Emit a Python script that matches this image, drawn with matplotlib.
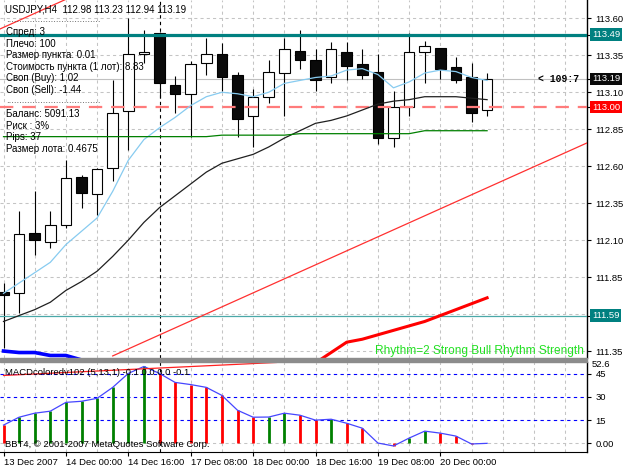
# USDJPY H4 chart with MACD colored subwindow (MetaTrader-style screenshot)
import numpy as np
import matplotlib.pyplot as plt
from matplotlib.patches import Rectangle

plt.rcParams['font.family'] = ['Liberation Sans', 'DejaVu Sans']

# ---- data -------------------------------------------------------------
time_labels = ["13 Dec 2007", "14 Dec 00:00", "14 Dec 16:00", "17 Dec 08:00",
               "18 Dec 00:00", "18 Dec 16:00", "19 Dec 08:00", "20 Dec 00:00"]
label_bars = [0, 4, 8, 12, 16, 20, 24, 28]
week_sep_bar = 10

opens = [111.75, 111.74, 112.15, 112.09, 112.20, 112.53, 112.41, 112.59, 112.97, 113.36,
         113.50, 113.15, 113.09, 113.30, 113.36, 113.22, 112.94, 113.07, 113.23, 113.38,
         113.32, 113.20, 113.37, 113.29, 113.24, 112.79, 113.00, 113.37, 113.40, 113.27,
         113.20, 112.98]
highs = [111.81, 112.30, 112.43, 112.30, 112.64, 112.54, 112.59, 113.18, 113.60, 113.52,
         113.51, 113.21, 113.31, 113.47, 113.43, 113.24, 113.12, 113.32, 113.47, 113.52,
         113.39, 113.44, 113.44, 113.39, 113.36, 113.11, 113.50, 113.45, 113.40, 113.34,
         113.30, 113.23]
lows = [111.37, 111.61, 112.00, 112.05, 112.18, 112.32, 112.27, 112.50, 112.71, 113.30,
        113.06, 112.96, 112.80, 113.22, 113.11, 112.80, 112.73, 113.03, 112.94, 113.26,
        113.11, 113.16, 113.18, 113.19, 112.75, 112.73, 112.94, 113.16, 113.19, 113.16,
        112.90, 112.94]
closes = [111.73, 112.14, 112.10, 112.20, 112.52, 112.42, 112.58, 112.96, 113.36, 113.37,
          113.16, 113.09, 113.29, 113.36, 113.20, 112.92, 113.07, 113.24, 113.39, 113.32,
          113.18, 113.39, 113.28, 113.22, 112.79, 113.00, 113.37, 113.41, 113.26, 113.18,
          112.96, 113.19]

ma_fast = [111.74, 111.81, 111.88, 111.95, 112.07, 112.16, 112.25, 112.43, 112.64, 112.78,
           112.86, 112.93, 113.01, 113.07, 113.10, 113.09, 113.07, 113.10, 113.16, 113.18,
           113.20, 113.21, 113.25, 113.26, 113.22, 113.13, 113.17, 113.23, 113.25, 113.24,
           113.20, 113.18]
ma_slow = [111.55, 111.59, 111.63, 111.68, 111.76, 111.82, 111.89, 111.99, 112.10, 112.22,
           112.32, 112.40, 112.48, 112.56, 112.62, 112.65, 112.68, 112.73, 112.79, 112.84,
           112.89, 112.91, 112.94, 112.98, 113.02, 113.04, 113.05, 113.07, 113.07, 113.07,
           113.06, 113.05]
green_line = [112.80] * 14 + [112.81] * 5 + [112.82] * 8 + [112.84] * 5

bull_bars = list(range(19, 32))
bull_line = [111.21, 111.27, 111.34, 111.41, 111.43, 111.46, 111.49, 111.52, 111.55,
             111.59, 111.63, 111.67, 111.71]
bear_bars = list(range(0, 6))
bear_line = [111.35, 111.34, 111.34, 111.32, 111.32, 111.29]

trend_bars = [7.0, 37.5]
trend_prices = [111.317, 112.762]
chan_bars = [-0.5, 5.0]
chan_prices = [113.515, 113.776]

resist_level = 113.49
support_level = 111.59
target_level = 113.00
bid = 113.19

macd = [11.8, 16.9, 19.5, 20.8, 26.5, 27.2, 29.1, 36.2, 45.2, 49.7,
        45.2, 39.4, 38.0, 36.2, 31.0, 21.4, 16.9, 17.0, 19.5, 18.2,
        15.0, 15.6, 13.0, 9.8, 0.2, -1.7, 3.4, 7.9, 6.6, 4.7,
        -0.4, 0.0]
macd_levels = [15, 30, 45]
macd_tl_bars = [0.0, 17.5]
macd_tl_vals = [43.9, 52.3]

price_ticks = [111.35, 111.85, 112.10, 112.35, 112.60, 112.85, 113.10, 113.35, 113.60]
price_grid = [111.35, 111.60, 111.85, 112.10, 112.35, 112.60, 112.85, 113.10, 113.35, 113.60]

# ---- layout -------------------------------------------------------------
W, H = 625, 469
fig = plt.figure(figsize=(W / 100, H / 100), dpi=100)
fig.patch.set_facecolor('white')
ax = fig.add_axes([0, 1 - 358 / H, 587 / W, 358 / H])
am = fig.add_axes([0, 17 / H, 587 / W, 90 / H])

xlim = (-3.5 / 15.6, (587 - 3.5) / 15.6)
for a in (ax, am):
    a.set_xlim(*xlim)
    for s in ('left', 'top', 'bottom'):
        a.spines[s].set_visible(False)
    a.spines['right'].set_linewidth(1.0)
am.spines['bottom'].set_visible(True)
ax.set_ylim(111.303, 113.724)
am.set_ylim(-5.6, 52.6)

fig.patches.append(Rectangle((0, (H - 362) / H), 587 / W, 4 / H,
                             transform=fig.transFigure, color='#8c8c8c'))

grid_kw = dict(colors='#c4c4c4', linestyles=(0, (3, 3)), linewidth=0.75, zorder=1)
grid_x = [g for g in range(0, 38, 2) if g != week_sep_bar]
for a in (ax, am):
    a.vlines(grid_x, *a.get_ylim(), **grid_kw)
    a.axvline(week_sep_bar, color='black', ls=(0, (3, 3)), lw=0.8, zorder=2)
ax.hlines(price_grid, *xlim, **grid_kw)

# ---- main panel ---------------------------------------------------------
x = np.arange(len(opens))
o, h, l, c = map(np.array, (opens, highs, lows, closes))
ax.vlines(x, l, h, color='black', lw=0.8, zorder=3)
body = np.where(np.abs(c - o) < 0.005, 0.005, c - o)
ax.bar(x, body, bottom=o, width=0.68, color=np.where(c >= o, 'white', '#0a0a0a'),
       edgecolor='black', linewidth=0.8, zorder=4)

ax.axhline(bid, color='#c0c0c0', lw=0.8, zorder=2)
ax.axhline(resist_level, color='#008080', lw=2.3, zorder=5)
ax.axhline(support_level, color='#4aa8a8', lw=0.9, zorder=5)
ax.axhline(target_level, color='#ff7b7b', lw=1.6, ls=(0, (6, 4)), zorder=5)

ax.plot(x, ma_fast, color='#87cbf0', lw=0.9, zorder=6)
ax.plot(x, ma_slow, color='#202020', lw=0.9, zorder=6)
ax.plot(x, green_line, color='#008000', lw=0.9, zorder=6)
ax.plot(bull_bars, bull_line, color='#ff0000', lw=2.2, zorder=6)
ax.plot(bear_bars, bear_line, color='#0000ff', lw=2.6, zorder=6)
ax.plot(trend_bars, trend_prices, color='#ff3030', lw=0.9, zorder=6)
ax.plot(chan_bars, chan_prices, color='#ff3030', lw=0.9, zorder=6)

ax.yaxis.tick_right()
ax.set_yticks(price_ticks)
ax.set_yticklabels(['%.2f' % t for t in price_ticks])
ax.tick_params(axis='y', length=3, width=0.8, pad=3, labelsize=6.8)
ax.tick_params(axis='x', bottom=False, labelbottom=False)

ytr = ax.get_yaxis_transform()
for lvl, col in [(resist_level, '#008080'), (bid, '#0a0a0a'),
                 (target_level, '#ff0000'), (support_level, '#008080')]:
    ax.plot([1.0, 1.007], [lvl, lvl], color='black', lw=0.8, transform=ytr, clip_on=False)
    ax.text(1.0 + 5 / 587, lvl, '%.2f' % lvl, transform=ytr, ha='left', va='center',
            fontsize=6.8, color='white', zorder=10, clip_on=False,
            bbox=dict(boxstyle='square,pad=0.2', fc=col, ec='none'))


def px(a, xp, yp, hp):
    return xp / 587, 1 - yp / hp


ax.text(*px(ax, 538, 79, 358), '< 109:7', transform=ax.transAxes, family='Liberation Mono',
        fontsize=7, va='center', ha='left', weight='bold', zorder=10)

ax.text(*px(ax, 5, 10, 358), 'USDJPY,H4  112.98 113.23 112.94 113.19', transform=ax.transAxes,
        fontsize=7, va='center', zorder=10)
info_top = ["Спред: 3", "Плечо: 100", "Размер пункта: 0.01",
            "Стоимость пункта (1 лот): 8.83", "Своп (Buy): 1.02", "Своп (Sell): -1.44"]
info_bottom = ["Баланс: 5091.13", "Риск : 3%", "Pips: 37", "Размер лота: 0.4675"]
dots = '.' * 36
ax.text(*px(ax, 6, 19, 358), dots, transform=ax.transAxes, fontsize=7, color='#404040',
        va='center', zorder=10)
for i, s in enumerate(info_top):
    ax.text(*px(ax, 6, 32 + 11.6 * i, 358), s, transform=ax.transAxes, fontsize=7,
            va='center', zorder=10)
ax.text(*px(ax, 6, 100, 358), dots, transform=ax.transAxes, fontsize=7, color='#404040',
        va='center', zorder=10)
for i, s in enumerate(info_bottom):
    ax.text(*px(ax, 6, 114 + 11.6 * i, 358), s, transform=ax.transAxes, fontsize=7,
            va='center', zorder=10)

ax.text(*px(ax, 584, 351, 358), 'Rhythm=2 Strong Bull Rhythm Strength', transform=ax.transAxes,
        fontsize=8.6, color='#22e022', ha='right', va='center', zorder=10)

# ---- MACD panel ---------------------------------------------------------
mv = np.array(macd)
up = np.diff(np.r_[mv[0] + 1, mv]) > 0
am.hlines(macd_levels, *xlim, colors='#0000ff', linestyles=(0, (3, 3)), lw=0.8, zorder=2)
am.hlines([0], *xlim, **grid_kw)
am.vlines(x, 0, mv, colors=np.where(up, '#008000', '#ff0000'), lw=2.0, zorder=3)
am.plot(x, mv, color='#4646ff', lw=0.9, zorder=4)
am.plot(macd_tl_bars, macd_tl_vals, color='#ff2020', lw=0.9, zorder=4)

am.yaxis.tick_right()
am.set_yticks([0] + macd_levels)
am.set_yticklabels(['0.00', '15', '30', '45'])
am.tick_params(axis='y', length=3, width=0.8, pad=3, labelsize=6.8)
am.text(1.0 + 5 / 587, 1 - 2 / 90, '52.6', transform=am.transAxes, fontsize=6.8,
        va='center', ha='left', clip_on=False)

am.set_xticks(label_bars)
am.set_xticklabels(time_labels, ha='left')
am.tick_params(axis='x', length=3, width=0.8, pad=1.5, labelsize=6.8)

am.text(*px(am, 5, 10, 90), 'MACDcoloredv102 (5,13,1) -0.1 0.0 0.0 -0.1', transform=am.transAxes,
        fontsize=6.8, va='center', zorder=10)
am.text(*px(am, 5, 82, 90), 'BBT4, © 2001-2007 MetaQuotes Software Corp.', transform=am.transAxes,
        fontsize=6.8, va='center', zorder=10)

fig.savefig('out.png', dpi=100)
